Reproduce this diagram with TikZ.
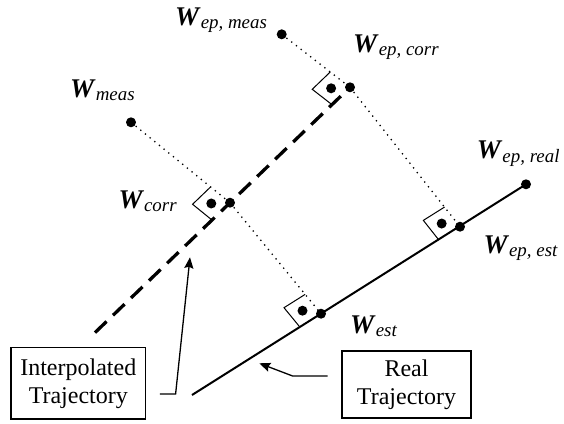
\documentclass[tikz,border=0pt]{standalone}
\usepackage{fontspec}
\setmainfont{Liberation Serif}
\usetikzlibrary{calc,arrows.meta}

\newcommand{\wlab}[1]{\textbf{\textit{W}}\textsubscript{\textit{#1}}}
% right angle mark at #1, arms towards #2 and #3
\newcommand{\rtmark}[3]{%
  \coordinate (ra) at ($(#1)!25pt!(#2)$);
  \coordinate (rb) at ($(#1)!25pt!(#3)$);
  \coordinate (rc) at ($(ra)+(rb)-(#1)$);
  \draw[line width=1pt] (ra) -- (rc) -- (rb);
  \fill ($(#1)!.5!(rc)$) circle (5pt);}

\tikzset{
  wtext/.style={inner sep=0pt, anchor=base west, font=\fontsize{27}{30}\selectfont},
  trajbox/.style={draw, line width=1.3pt, align=center, inner sep=0pt,
    font=\fontsize{24}{28}\selectfont},
  dotline/.style={line width=1.3pt, dash pattern=on 1.3pt off 4.7pt},
  ptr/.style={line width=1.3pt, -{Stealth[length=11pt,width=9pt,inset=1.5pt]}}
}

\begin{document}
\begin{tikzpicture}[x=1pt,y=-1pt]
  \useasboundingbox (0,0) rectangle (564,423);

  % points
  \coordinate (meas) at (131,122.3);
  \coordinate (epmeas) at (281.7,34.3);
  \coordinate (corr) at (230,202.7);
  \coordinate (epcorr) at (350,87.3);
  \coordinate (est) at (321,313.7);
  \coordinate (epest) at (460,226.7);
  \coordinate (epreal) at (526,184.3);
  \coordinate (ilow) at (95,332.6);
  \coordinate (rlow) at (192,395);
  \coordinate (itip) at (190,257.3);
  \coordinate (rtip) at (259.3,363.3);

  % trajectories
  \draw[line width=3.3pt, dash pattern=on 16pt off 9pt] (ilow) -- (epcorr);
  \draw[line width=2pt] (rlow) -- (epreal);

  % corrections
  \draw[dotline] (meas) -- (corr);
  \draw[dotline] (corr) -- (est);
  \draw[dotline] (epmeas) -- (epcorr);
  \draw[dotline] (epcorr) -- (epest);

  \rtmark{corr}{meas}{ilow}
  \rtmark{epcorr}{epmeas}{ilow}
  \rtmark{est}{corr}{rlow}
  \rtmark{epest}{epcorr}{rlow}

  \foreach \p in {meas,epmeas,corr,epcorr,est,epest,epreal}
    \fill (\p) circle (5pt);

  % labels
  \node[wtext] (lmeas) at (70,97) {\wlab{meas}};
  \node[wtext] (lepmeas) at (175,25) {\wlab{ep, meas}};
  \node[wtext] (lcorr) at (118.3,208) {\wlab{corr}};
  \node[wtext] (lepcorr) at (353,52) {\wlab{ep, corr}};
  \node[wtext] (lest) at (350,333) {\wlab{est}};
  \node[wtext] (lepest) at (483.3,253) {\wlab{ep, est}};
  \node[wtext] (lepreal) at (476.7,158) {\wlab{ep, real}};

  % boxes
  \node[trajbox, minimum width=134.7pt, minimum height=71.3pt] (interp) at (78.3,383.4) {Interpolated\\Trajectory};
  \node[trajbox, minimum width=129pt, minimum height=67pt] (real) at (406.5,384.5) {Real\\Trajectory};

  \draw[ptr] ([shift={(13.6,10.6)}]interp.east) -- ++(15.7,0) -- (itip);
  \draw[ptr] ([shift={(-13.7,-8.5)}]real.west) -- ++(-35,0) -- (rtip);
\end{tikzpicture}
\end{document}
